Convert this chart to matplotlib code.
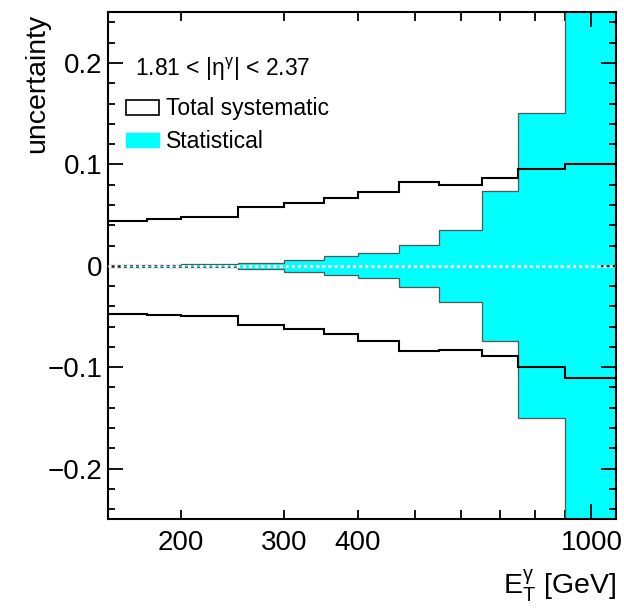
import matplotlib
matplotlib.use('Agg')
import matplotlib.pyplot as plt
from matplotlib.patches import Patch
from matplotlib.ticker import FixedLocator, FuncFormatter, MultipleLocator

# ---- data ----
edges = [150, 175, 200, 250, 300, 350, 400, 470, 550, 650, 750, 900, 1100]
syst_up = [0.0445, 0.046, 0.048, 0.0576, 0.0616, 0.0669, 0.0731, 0.0823,
           0.0794, 0.0863, 0.0952, 0.1008]
syst_down = [-0.0474, -0.0484, -0.0497, -0.0583, -0.0626, -0.0672, -0.0741,
             -0.0837, -0.0827, -0.0893, -0.1001, -0.1107]
stat = [0.001, 0.0012, 0.0015, 0.0031, 0.0058, 0.0094, 0.0125, 0.0207,
        0.0357, 0.0737, 0.1505, 0.30]
x_labelled = [200, 300, 400, 1000]
x_minor = [200, 300, 400, 500, 600, 700, 800, 900]
region_text = '1.81 < |η$^{\\mathrm{\\gamma}}$| < 2.37'
legend_labels = ['Total systematic', 'Statistical']

plt.rcParams['font.family'] = ['Liberation Sans', 'DejaVu Sans']
plt.rcParams['mathtext.fontset'] = 'custom'
plt.rcParams['mathtext.rm'] = 'Liberation Sans'
plt.rcParams['mathtext.it'] = 'Liberation Sans:italic'
plt.rcParams['mathtext.bf'] = 'Liberation Sans:bold'

fig = plt.figure(figsize=(6.24, 6.09), dpi=100)
ax = fig.add_axes([0.1726, 0.1473, 0.8141, 0.8325])

neg_stat = [-s for s in stat]
ax.stairs(stat, edges, baseline=neg_stat, fill=True, color='#00ffff', zorder=1)
ax.stairs(stat, edges, baseline=None, color='#555555', lw=0.9, zorder=2)
ax.stairs(neg_stat, edges, baseline=None, color='#555555', lw=0.9, zorder=2)
ax.axhline(0, color='white', lw=2.2, ls=(0, (1, 1)), zorder=3)
ax.stairs(syst_up, edges, baseline=None, color='black', lw=1.5, zorder=4)
ax.stairs(syst_down, edges, baseline=None, color='black', lw=1.5, zorder=4)

ax.set_xscale('log')
ax.set_xlim(edges[0], edges[-1])
ax.set_ylim(-0.25, 0.25)

ax.xaxis.set_major_locator(FixedLocator([1000]))
ax.xaxis.set_minor_locator(FixedLocator(x_minor))
ax.xaxis.set_major_formatter(FuncFormatter(lambda v, p: '%d' % v))
ax.xaxis.set_minor_formatter(FuncFormatter(
    lambda v, p: ('%d' % v) if int(round(v)) in x_labelled else ''))
ax.yaxis.set_major_locator(MultipleLocator(0.1))
ax.yaxis.set_minor_locator(MultipleLocator(0.02))
ax.yaxis.set_major_formatter(FuncFormatter(
    lambda v, p: '0' if abs(v) < 1e-9 else ('%.1f' % v).replace('-', '\u2212')))

ax.tick_params(axis='both', which='both', direction='in', top=True, right=True,
               labelsize=20, width=1.3, colors='black')
ax.tick_params(axis='x', which='major', length=11, pad=7.5)
ax.tick_params(axis='x', which='minor', length=6.7, pad=7.5)
ax.tick_params(axis='y', which='major', length=11, pad=4)
ax.tick_params(axis='y', which='minor', length=5.3)
for sp in ax.spines.values():
    sp.set_linewidth(1.5)

xl = ax.set_xlabel('E$_{\\mathrm{T}}^{\\mathrm{\\gamma}}$ [GeV]', fontsize=20.5)
xl.set_horizontalalignment('right')
xl.set_verticalalignment('baseline')
ax.xaxis.set_label_coords(1.0, -0.147)

yl = ax.set_ylabel('uncertainty', fontsize=20.5)
yl.set_horizontalalignment('right')
ax.yaxis.set_label_coords(-0.114, 0.998)

ax.text(0.0537, 0.8744, region_text, transform=ax.transAxes, fontsize=16.5,
        va='baseline', ha='left')

handles = [Patch(facecolor='white', edgecolor='black', lw=1.2),
           Patch(facecolor='#00ffff', edgecolor='#00ffff', lw=1.0)]
ax.legend(handles, legend_labels, loc='upper left',
          bbox_to_anchor=(0.0354, 0.832), frameon=False, fontsize=16.5,
          borderpad=0, borderaxespad=0, handlelength=1.45, handleheight=0.62,
          handletextpad=0.33, labelspacing=0.42)

fig.savefig('out.png', dpi=100)
